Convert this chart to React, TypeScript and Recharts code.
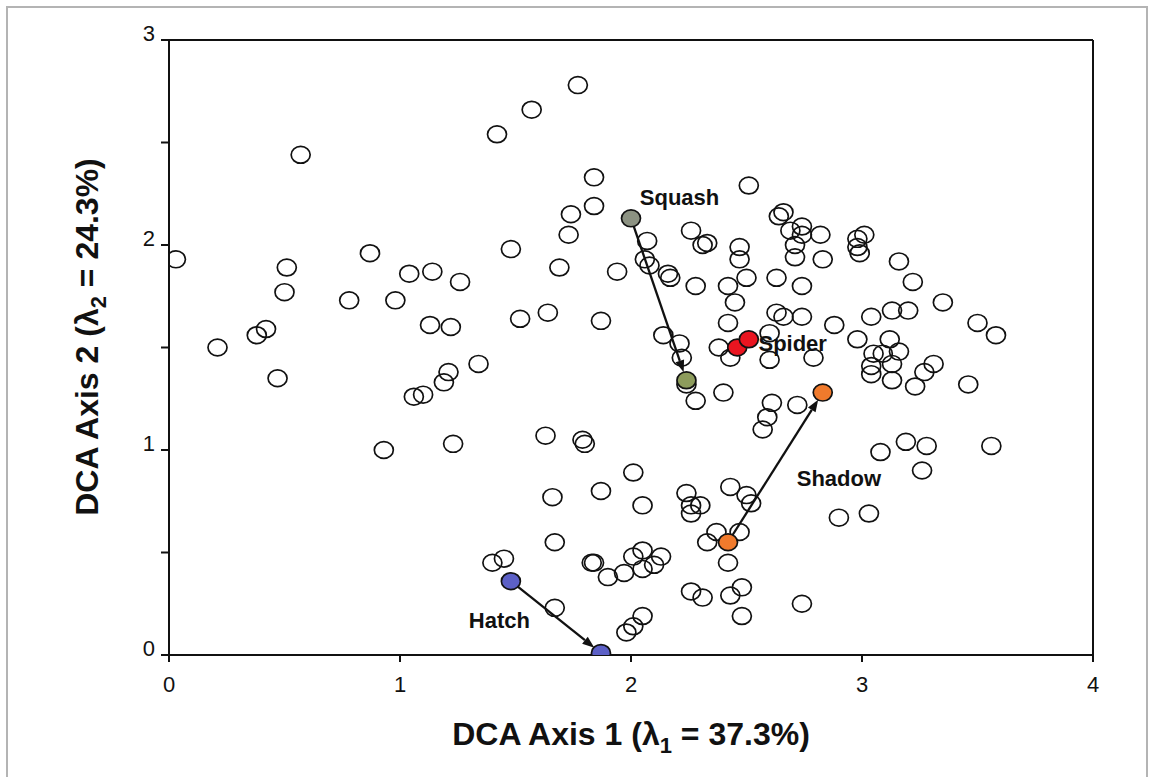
import React from 'react';
import { ScatterChart, Scatter, XAxis, YAxis, ReferenceLine, ReferenceDot, Label } from 'recharts';

type Site = { x: number; y: number };

// DCA site scores
const openSites: Site[] = [
  { x: 0.03, y: 1.93 }, { x: 0.21, y: 1.5 }, { x: 0.38, y: 1.56 }, { x: 0.42, y: 1.59 },
  { x: 0.47, y: 1.35 }, { x: 0.5, y: 1.77 }, { x: 0.51, y: 1.89 }, { x: 0.57, y: 2.44 },
  { x: 0.78, y: 1.73 }, { x: 0.87, y: 1.96 }, { x: 0.93, y: 1.0 }, { x: 0.98, y: 1.73 },
  { x: 1.04, y: 1.86 }, { x: 1.06, y: 1.26 }, { x: 1.1, y: 1.27 }, { x: 1.13, y: 1.61 },
  { x: 1.14, y: 1.87 }, { x: 1.19, y: 1.33 }, { x: 1.21, y: 1.38 }, { x: 1.22, y: 1.6 },
  { x: 1.23, y: 1.03 }, { x: 1.26, y: 1.82 }, { x: 1.34, y: 1.42 }, { x: 1.42, y: 2.54 },
  { x: 1.48, y: 1.98 }, { x: 1.52, y: 1.64 },
  { x: 1.77, y: 2.78 }, { x: 1.57, y: 2.66 }, { x: 1.84, y: 2.33 }, { x: 1.84, y: 2.19 },
  { x: 1.74, y: 2.15 }, { x: 1.73, y: 2.05 }, { x: 1.69, y: 1.89 }, { x: 1.94, y: 1.87 },
  { x: 2.07, y: 2.02 }, { x: 2.06, y: 1.93 }, { x: 2.08, y: 1.9 }, { x: 2.16, y: 1.86 },
  { x: 2.17, y: 1.84 }, { x: 2.26, y: 2.07 }, { x: 2.31, y: 2.0 }, { x: 2.33, y: 2.01 },
  { x: 2.28, y: 1.8 }, { x: 1.64, y: 1.67 }, { x: 1.87, y: 1.63 }, { x: 2.14, y: 1.56 },
  { x: 2.21, y: 1.52 }, { x: 2.22, y: 1.45 }, { x: 2.24, y: 1.32 }, { x: 2.28, y: 1.24 },
  { x: 2.4, y: 1.28 }, { x: 2.47, y: 1.99 }, { x: 2.47, y: 1.93 }, { x: 2.5, y: 1.84 },
  { x: 2.42, y: 1.8 }, { x: 2.45, y: 1.72 }, { x: 2.42, y: 1.62 }, { x: 2.38, y: 1.5 },
  { x: 2.43, y: 1.45 }, { x: 2.6, y: 1.57 }, { x: 2.63, y: 1.67 }, { x: 2.66, y: 1.65 },
  { x: 2.74, y: 1.65 }, { x: 2.63, y: 1.84 }, { x: 2.74, y: 1.8 }, { x: 2.64, y: 2.14 },
  { x: 2.66, y: 2.16 }, { x: 2.69, y: 2.07 }, { x: 2.74, y: 2.09 }, { x: 2.74, y: 2.05 },
  { x: 2.82, y: 2.05 }, { x: 2.71, y: 2.0 }, { x: 2.71, y: 1.94 }, { x: 2.83, y: 1.93 },
  { x: 2.88, y: 1.61 }, { x: 2.6, y: 1.44 }, { x: 2.79, y: 1.45 }, { x: 2.98, y: 1.54 },
  { x: 2.98, y: 2.03 }, { x: 3.01, y: 2.05 }, { x: 2.98, y: 1.99 }, { x: 2.99, y: 1.96 },
  { x: 2.51, y: 2.29 }, { x: 3.16, y: 1.92 }, { x: 3.22, y: 1.82 }, { x: 3.04, y: 1.65 },
  { x: 3.13, y: 1.68 }, { x: 3.2, y: 1.68 }, { x: 3.12, y: 1.54 }, { x: 3.05, y: 1.47 },
  { x: 3.09, y: 1.47 }, { x: 3.16, y: 1.48 }, { x: 3.35, y: 1.72 }, { x: 3.5, y: 1.62 },
  { x: 3.58, y: 1.56 }, { x: 3.04, y: 1.41 }, { x: 3.04, y: 1.37 }, { x: 3.13, y: 1.42 },
  { x: 3.13, y: 1.34 }, { x: 3.31, y: 1.42 }, { x: 3.27, y: 1.38 }, { x: 3.23, y: 1.31 },
  { x: 3.46, y: 1.32 }, { x: 3.08, y: 0.99 }, { x: 3.19, y: 1.04 }, { x: 3.28, y: 1.02 },
  { x: 3.56, y: 1.02 }, { x: 3.26, y: 0.9 }, { x: 2.9, y: 0.67 }, { x: 3.03, y: 0.69 },
  { x: 2.74, y: 0.25 }, { x: 2.59, y: 1.16 }, { x: 2.57, y: 1.1 }, { x: 2.61, y: 1.23 },
  { x: 2.72, y: 1.22 },
  { x: 1.63, y: 1.07 }, { x: 1.79, y: 1.05 }, { x: 1.8, y: 1.03 }, { x: 2.01, y: 0.89 },
  { x: 1.66, y: 0.77 }, { x: 1.87, y: 0.8 }, { x: 2.05, y: 0.73 }, { x: 2.24, y: 0.79 },
  { x: 2.26, y: 0.73 }, { x: 2.3, y: 0.73 }, { x: 2.26, y: 0.69 }, { x: 2.43, y: 0.82 },
  { x: 2.5, y: 0.78 }, { x: 2.52, y: 0.74 }, { x: 2.37, y: 0.6 }, { x: 2.33, y: 0.55 },
  { x: 2.47, y: 0.6 }, { x: 2.42, y: 0.45 }, { x: 1.67, y: 0.55 }, { x: 1.4, y: 0.45 },
  { x: 1.45, y: 0.47 }, { x: 1.67, y: 0.23 }, { x: 1.83, y: 0.45 }, { x: 1.84, y: 0.45 },
  { x: 1.9, y: 0.38 }, { x: 1.97, y: 0.4 }, { x: 2.01, y: 0.48 }, { x: 2.05, y: 0.51 },
  { x: 2.05, y: 0.42 }, { x: 2.1, y: 0.44 }, { x: 2.13, y: 0.48 }, { x: 2.26, y: 0.31 },
  { x: 2.31, y: 0.28 }, { x: 2.43, y: 0.29 }, { x: 2.48, y: 0.33 }, { x: 2.48, y: 0.19 },
  { x: 2.01, y: 0.14 }, { x: 2.05, y: 0.19 }, { x: 1.98, y: 0.11 },
];

const squashSites: Site[] = [{ x: 2.0, y: 2.13 }, { x: 2.24, y: 1.34 }];
const spiderSites: Site[] = [{ x: 2.46, y: 1.5 }, { x: 2.51, y: 1.54 }];
const shadowSites: Site[] = [{ x: 2.42, y: 0.55 }, { x: 2.83, y: 1.28 }];
const hatchSites: Site[] = [{ x: 1.48, y: 0.36 }, { x: 1.87, y: 0.01 }];

const labels = [
  { name: 'Squash', x: 2.21, y: 2.23 },
  { name: 'Spider', x: 2.7, y: 1.52 },
  { name: 'Shadow', x: 2.9, y: 0.86 },
  { name: 'Hatch', x: 1.43, y: 0.17 },
];

const xTicks = [0, 1, 2, 3, 4];
const yTicks = [0, 0.5, 1, 1.5, 2, 2.5, 3];

const FONT = '"Liberation Sans", Arial, sans-serif';

const ring = (fill: string) => (p: any) => (
  <ellipse cx={p.cx} cy={p.cy} rx={9.5} ry={8.4} fill={fill} stroke="#111" strokeWidth={1.7} />
);

const Arrow = (p: any) => {
  const dx = p.x2 - p.x1;
  const dy = p.y2 - p.y1;
  const len = Math.sqrt(dx * dx + dy * dy) || 1;
  const ux = dx / len;
  const uy = dy / len;
  const sx = p.x1 + ux * 8;
  const sy = p.y1 + uy * 8;
  const tx = p.x2 - ux * 8.5;
  const ty = p.y2 - uy * 8.5;
  const bx = tx - ux * 12;
  const by = ty - uy * 12;
  const head = `${tx},${ty} ${bx - uy * 4.5},${by + ux * 4.5} ${bx + uy * 4.5},${by - ux * 4.5}`;
  return (
    <g>
      <line x1={sx} y1={sy} x2={bx} y2={by} stroke="#111" strokeWidth={2.3} />
      <polygon points={head} fill="#111" />
    </g>
  );
};

const YTick = (p: any) => {
  const v = p.payload.value;
  if (!Number.isInteger(v)) return null;
  return (
    <text x={p.x - 4} y={p.y - 7} textAnchor="end" dominantBaseline="central" fontSize={22} fontFamily={FONT} fill="#111">
      {v}
    </text>
  );
};

const XTick = (p: any) => (
  <text x={p.x} y={p.y + 20} textAnchor="middle" dominantBaseline="central" fontSize={22} fontFamily={FONT} fill="#111">
    {p.payload.value}
  </text>
);

const XTitle = (p: any) => {
  const vb = p.viewBox;
  return (
    <text x={vb.x + vb.width / 2} y={vb.y + 90} textAnchor="middle" fontSize={32} fontWeight="bold" fontFamily={FONT} fill="#111">
      DCA Axis 1 (λ<tspan dy={8} fontSize={22}>1</tspan>
      <tspan dy={-8}> = 37.3%)</tspan>
    </text>
  );
};

const YTitle = () => {
  const cx = 98;
  const cy = 337;
  return (
    <text x={cx} y={cy} transform={`rotate(-90 ${cx} ${cy})`} textAnchor="middle" fontSize={32} fontWeight="bold" fontFamily={FONT} fill="#111">
      DCA Axis 2 (λ<tspan dy={8} fontSize={22}>2</tspan>
      <tspan dy={-8}> = 24.3%)</tspan>
    </text>
  );
};

const arrows = [squashSites, shadowSites, hatchSites];

export default function App() {
  return (
    <div style={{ position: 'absolute', left: 0, top: 0, width: 1151, height: 777, background: '#fff' }}>
      <div
        style={{
          position: 'absolute', left: 6, top: 6, width: 1138, height: 775,
          borderLeft: '2px solid #b4b4b4', borderTop: '2px solid #b4b4b4', borderRight: '2px solid #b4b4b4',
        }}
      />
      <ScatterChart width={1151} height={777} margin={{ top: 40, right: 58, bottom: 62, left: 0 }} style={{ position: 'absolute', left: 0, top: 0 }}>
        <XAxis
          type="number" dataKey="x" domain={[0, 4]} ticks={xTicks} height={60}
          axisLine={{ stroke: '#111', strokeWidth: 2 }} tickLine={{ stroke: '#111', strokeWidth: 2 }}
          tickSize={7} tick={<XTick />} allowDataOverflow
        >
          <Label content={<XTitle />} />
        </XAxis>
        <YAxis
          type="number" dataKey="y" domain={[0, 3]} ticks={yTicks} width={169}
          axisLine={{ stroke: '#111', strokeWidth: 2 }} tickLine={{ stroke: '#111', strokeWidth: 2 }}
          tickSize={8} tick={<YTick />} allowDataOverflow
        >
          <Label content={<YTitle />} />
        </YAxis>
        <ReferenceLine y={3} stroke="#111" strokeWidth={2} />
        <ReferenceLine x={4} stroke="#111" strokeWidth={2} />
        <Scatter data={openSites} shape={ring('none')} isAnimationActive={false} />
        {arrows.map((s, i) => (
          <ReferenceLine key={i} segment={[s[0], s[1]]} shape={(p: any) => <Arrow {...p} />} />
        ))}
        <Scatter data={squashSites.slice(0, 1)} shape={ring('#8c9282')} isAnimationActive={false} />
        <Scatter data={squashSites.slice(1)} shape={ring('#8d9c5c')} isAnimationActive={false} />
        <Scatter data={spiderSites} shape={ring('#ea1520')} isAnimationActive={false} />
        <Scatter data={shadowSites} shape={ring('#f07a2c')} isAnimationActive={false} />
        <Scatter data={hatchSites} shape={ring('#5c60c6')} isAnimationActive={false} />
        {labels.map((l) => (
          <ReferenceDot
            key={l.name} x={l.x} y={l.y} r={0}
            shape={(p: any) => (
              <text x={p.cx} y={p.cy} textAnchor="middle" dominantBaseline="central" fontSize={22} fontWeight="bold" fontFamily={FONT} fill="#111">
                {l.name}
              </text>
            )}
          />
        ))}
      </ScatterChart>
    </div>
  );
}
